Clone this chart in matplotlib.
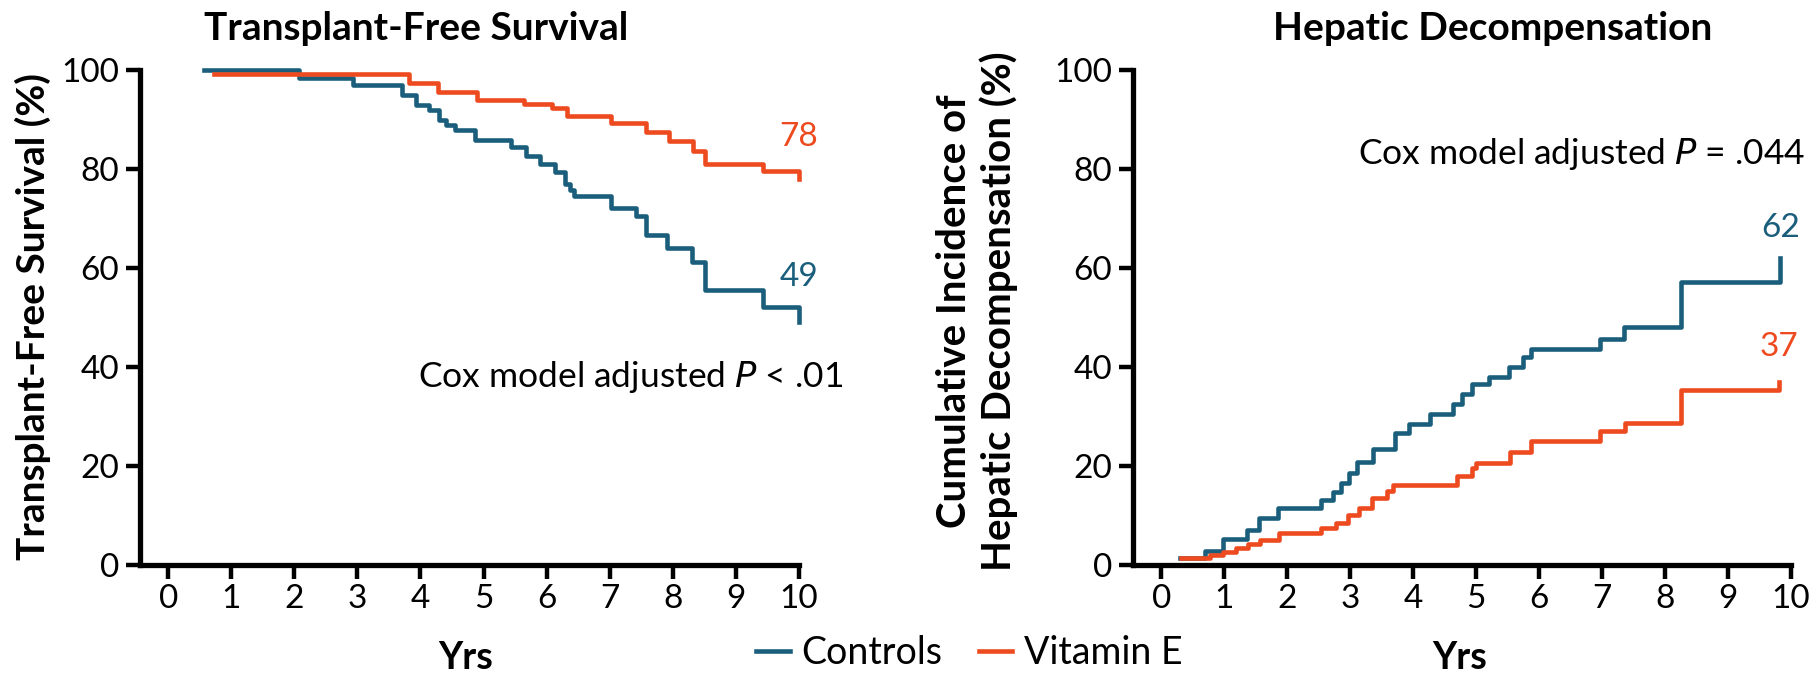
import matplotlib
matplotlib.use("Agg")
import matplotlib.pyplot as plt

plt.rcParams['font.family'] = ['Lato', 'DejaVu Sans']

BLUE = '#1a5e7c'
ORANGE = '#ee4a1f'

# transplant-free survival (%), Kaplan-Meier steps
tfs_ctrl_t = [0.56, 2.07, 2.93, 3.70, 3.93, 4.14, 4.30, 4.40, 4.55, 4.87, 5.43, 5.67,
              5.89, 6.13, 6.30, 6.37, 6.44, 7.03, 7.42, 7.58, 7.91, 8.30, 8.51, 9.43, 10.0]
tfs_ctrl_v = [100, 98.3, 96.9, 94.9, 92.9, 91.9, 89.8, 88.8, 87.8, 85.9, 84.4, 82.7,
              81.0, 79.3, 77.0, 75.8, 74.6, 72.2, 70.5, 66.6, 64.1, 61.2, 55.6, 52.2, 49]
tfs_vite_t = [0.72, 3.82, 4.28, 4.89, 5.64, 6.08, 6.32, 7.03, 7.58, 7.95, 8.32, 8.51, 9.43, 10.0]
tfs_vite_v = [99.2, 97.3, 95.6, 93.9, 93.2, 92.4, 90.7, 89.2, 87.5, 85.6, 83.7, 81.0, 79.5, 78]

# cumulative incidence of hepatic decompensation (%)
hd_ctrl_t = [0.30, 0.69, 0.98, 1.36, 1.55, 1.85, 2.54, 2.73, 2.85, 2.98, 3.11, 3.36, 3.71,
             3.93, 4.27, 4.63, 4.78, 4.94, 5.21, 5.52, 5.75, 5.87, 6.97, 7.35, 8.26, 9.83]
hd_ctrl_v = [1.4, 2.8, 5.2, 7.1, 9.4, 11.6, 13.1, 14.8, 16.6, 18.6, 20.9, 23.4, 26.6,
             28.5, 30.5, 32.5, 34.5, 36.6, 38.0, 40.0, 42.0, 43.7, 45.7, 48.1, 57.2, 62]
hd_vite_t = [0.32, 0.77, 0.98, 1.19, 1.37, 1.56, 1.87, 2.54, 2.78, 2.97, 3.14, 3.35, 3.58,
             3.68, 4.70, 4.94, 5.00, 5.54, 5.87, 6.96, 7.37, 8.26, 9.81]
hd_vite_v = [1.4, 2.0, 2.7, 3.5, 4.3, 5.1, 6.4, 7.4, 8.4, 10.1, 11.6, 13.6, 15.0,
             16.2, 18.0, 19.5, 20.7, 22.9, 25.1, 27.1, 28.7, 35.4, 37]

x_ticks = list(range(0, 11))
y_ticks = [0, 20, 40, 60, 80, 100]

fig = plt.figure(figsize=(18.11, 6.73), dpi=100)
ax1 = fig.add_axes([0.0773, 0.1605, 0.3637, 0.7355])
ax2 = fig.add_axes([0.6256, 0.1605, 0.3634, 0.7355])


def style_axis(ax):
    ax.set_xlim(-0.45, 10)
    ax.set_ylim(0, 100)
    ax.spines['top'].set_visible(False)
    ax.spines['right'].set_visible(False)
    for s in ['left', 'bottom']:
        ax.spines[s].set_linewidth(3.8)
    ax.set_xticks(x_ticks)
    ax.set_yticks(y_ticks)
    ax.tick_params(axis='both', length=10, width=3.2, labelsize=24, color='black')
    ax.tick_params(axis='x', pad=4)
    ax.tick_params(axis='y', pad=5)


lines = []
for ax, (ct, cv, vt, vv) in [(ax1, (tfs_ctrl_t, tfs_ctrl_v, tfs_vite_t, tfs_vite_v)),
                             (ax2, (hd_ctrl_t, hd_ctrl_v, hd_vite_t, hd_vite_v))]:
    style_axis(ax)
    l1, = ax.step(ct, cv, where='post', color=BLUE, lw=3.3, clip_on=False, label='Controls')
    l2, = ax.step(vt, vv, where='post', color=ORANGE, lw=3.3, clip_on=False, label='Vitamin E')
    lines = [l1, l2]

# end-of-follow-up values
ax1.text(tfs_vite_t[-1], tfs_vite_v[-1] + 8.5, f'{tfs_vite_v[-1]:.0f}', color=ORANGE,
         fontsize=24, ha='center', va='center')
ax1.text(tfs_ctrl_t[-1], tfs_ctrl_v[-1] + 9.2, f'{tfs_ctrl_v[-1]:.0f}', color=BLUE,
         fontsize=24, ha='center', va='center')
ax2.text(hd_ctrl_t[-1], hd_ctrl_v[-1] + 6.0, f'{hd_ctrl_v[-1]:.0f}', color=BLUE,
         fontsize=24, ha='center', va='center')
ax2.text(hd_vite_t[-1], hd_vite_v[-1] + 7.0, f'{hd_vite_v[-1]:.0f}', color=ORANGE,
         fontsize=24, ha='center', va='center')

ax1.text(3.96, 38, 'Cox model adjusted $\\mathit{P}$ < .01', fontsize=25.5, va='center', ha='left')
ax2.text(10.22, 83, 'Cox model adjusted $\\mathit{P}$ = .044', fontsize=25.5, va='center',
         ha='right', clip_on=False)

fig.text(0.2297, 0.958, 'Transplant-Free Survival', fontsize=28, fontweight='bold',
         ha='center', va='center')
fig.text(0.8244, 0.958, 'Hepatic Decompensation', fontsize=28, fontweight='bold',
         ha='center', va='center')

fig.text(0.0182, 0.529, 'Transplant-Free Survival (%)', fontsize=28, fontweight='bold',
         rotation=90, ha='center', va='center')
fig.text(0.5395, 0.538, 'Cumulative Incidence of\nHepatic Decompensation (%)', fontsize=29,
         fontweight='bold', rotation=90, ha='center', va='center', linespacing=1.2)

fig.text(0.2573, 0.0223, 'Yrs', fontsize=27, fontweight='bold', ha='center', va='center')
fig.text(0.806, 0.0223, 'Yrs', fontsize=27, fontweight='bold', ha='center', va='center')

fig.legend(handles=lines, loc='center', bbox_to_anchor=(0.5353, 0.0297), ncol=2,
           frameon=False, fontsize=27, handlelength=0.9, handletextpad=0.32,
           columnspacing=0.96)

fig.savefig('out.png', dpi=100)
